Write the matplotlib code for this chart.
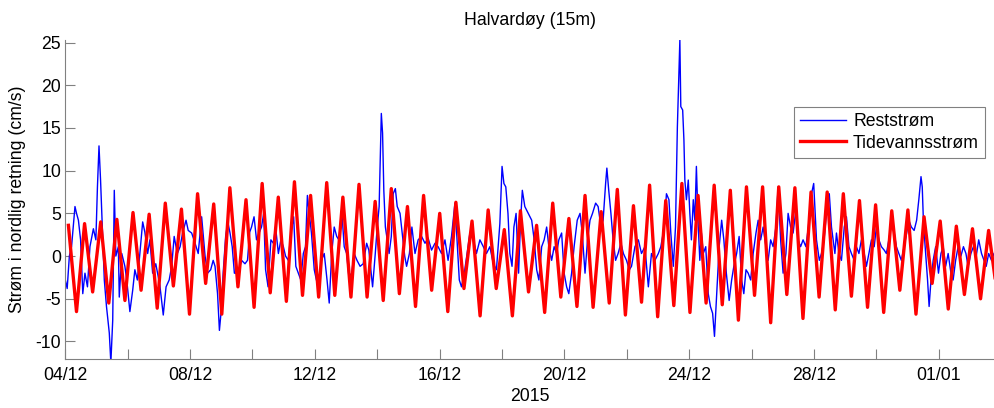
## Import Libraries

import numpy as np
import pandas as pd
import matplotlib.pyplot as plt

plt.rcParams["font.family"] = ["Liberation Sans", "DejaVu Sans"]
plt.rcParams["font.size"] = 12.7
plt.rcParams["axes.unicode_minus"] = False

## Data (days after 04/12/2015, cm/s)

start = pd.Timestamp("2015-12-04")

# tidal current: successive high/low extremes, one every half M2 period
tide_t0 = 0.10
tide_half = 12.42 / 24 / 2
tide_v = [3.6, -6.5, 3.8, -4.2, 4.0, -5.5, 4.3, -5.2, 5.1, -4.0,
          4.9, -6.1, 6.2, -3.5, 5.5, -6.8, 7.3, -3.2, 6.1, -6.8,
          8.0, -3.6, 6.6, -6.0, 8.5, -4.3, 6.9, -5.3, 8.7, -4.6,
          7.1, -4.8, 8.6, -4.6, 6.9, -4.8, 8.4, -4.8, 6.4, -5.2,
          7.9, -4.4, 5.8, -5.9, 7.1, -4.0, 5.0, -6.5, 6.3, -3.8,
          4.1, -7.0, 5.4, -3.8, 3.1, -7.0, 5.3, -4.2, 3.6, -6.6,
          6.2, -4.8, 4.4, -5.9, 7.1, -6.0, 5.2, -5.5, 7.8, -6.9,
          5.9, -5.4, 8.3, -7.1, 6.5, -5.8, 8.5, -6.6, 7.1, -5.5,
          8.3, -5.7, 7.7, -7.5, 8.1, -4.6, 8.1, -7.8, 8.1, -4.5,
          8.0, -7.3, 7.5, -4.8, 7.5, -6.3, 7.3, -4.7, 6.5, -6.0,
          6.0, -6.6, 5.3, -4.0, 5.4, -6.8, 4.6, -3.2, 4.1, -6.2,
          3.5, -4.5, 3.2, -5.0, 3.0, -4.0]

# residual current
rest_t = [0.00, 0.06, 0.13, 0.20, 0.31, 0.36, 0.42, 0.49, 0.56, 0.63, 0.71, 0.79, 0.90, 0.98,
          1.03, 1.08, 1.13, 1.20, 1.25, 1.32, 1.41, 1.46, 1.52, 1.57, 1.62, 1.70, 1.73, 1.81, 1.91, 1.97,
          2.07, 2.16, 2.23, 2.31, 2.39, 2.48, 2.55, 2.64, 2.71, 2.80, 2.90,
          3.03, 3.14, 3.23, 3.33, 3.41, 3.49, 3.59, 3.68, 3.76, 3.87, 3.94,
          4.05, 4.16, 4.26, 4.37, 4.48, 4.56, 4.66, 4.74, 4.80, 4.88, 4.94, 4.99,
          5.06, 5.14, 5.21, 5.28, 5.35, 5.42, 5.49, 5.57, 5.65, 5.76, 5.84, 5.91, 5.97,
          6.05, 6.13, 6.21, 6.29, 6.36, 6.42, 6.50, 6.59, 6.67, 6.74, 6.83, 6.91, 6.99,
          7.06, 7.15, 7.23, 7.32, 7.39, 7.47, 7.55, 7.63, 7.70, 7.76, 7.82, 7.89, 7.98,
          8.05, 8.13, 8.21, 8.30, 8.39, 8.46, 8.54, 8.62, 8.70, 8.77, 8.86, 8.94,
          9.02, 9.09, 9.18, 9.26, 9.35, 9.45, 9.55, 9.66, 9.73, 9.85, 9.93,
          10.00, 10.06, 10.13, 10.17, 10.21, 10.26, 10.32, 10.38, 10.45, 10.51, 10.58, 10.64, 10.73, 10.79, 10.88, 10.94,
          11.03, 11.11, 11.21, 11.31, 11.42, 11.53, 11.63, 11.74, 11.85, 11.95,
          12.06, 12.17, 12.27, 12.38, 12.49, 12.57, 12.63, 12.70, 12.79, 12.88, 12.97,
          13.08, 13.18, 13.29, 13.40, 13.50, 13.61, 13.72, 13.82, 13.93,
          14.00, 14.06, 14.12, 14.19, 14.25, 14.32, 14.38, 14.45, 14.53, 14.59, 14.65, 14.73, 14.84, 14.95,
          15.03, 15.11, 15.18, 15.27, 15.35, 15.43, 15.50, 15.59, 15.67, 15.75, 15.82, 15.91, 15.99,
          16.07, 16.14, 16.23, 16.31, 16.41, 16.50, 16.57, 16.66, 16.74, 16.82, 16.90,
          17.00, 17.08, 17.17, 17.24, 17.32, 17.36, 17.42, 17.49, 17.56, 17.64, 17.72, 17.81, 17.89, 17.99,
          18.08, 18.15, 18.26, 18.37, 18.47, 18.58, 18.69, 18.79, 18.90,
          19.01, 19.09, 19.20, 19.27, 19.35, 19.41, 19.49, 19.56, 19.62, 19.67, 19.70, 19.73, 19.79, 19.83, 19.86, 19.91, 19.97,
          20.02, 20.07, 20.13, 20.18, 20.23, 20.29, 20.34, 20.39, 20.45, 20.53, 20.61, 20.68, 20.75, 20.81, 20.88, 20.96,
          21.04, 21.11, 21.19, 21.28, 21.36, 21.43, 21.52, 21.60, 21.68, 21.75, 21.82, 21.89, 21.97,
          22.05, 22.14, 22.21, 22.29, 22.37, 22.46, 22.53, 22.61, 22.69, 22.78, 22.85, 22.93,
          23.01, 23.10, 23.17, 23.25, 23.33, 23.42, 23.49, 23.57, 23.65, 23.74, 23.82, 23.92, 23.99,
          24.08, 24.17, 24.24, 24.32, 24.40, 24.49, 24.56, 24.64, 24.67, 24.72, 24.80, 24.88, 24.97,
          25.04, 25.12, 25.20, 25.29, 25.36, 25.44, 25.52, 25.61, 25.68, 25.76, 25.84, 25.93,
          26.00, 26.08, 26.16, 26.25, 26.32, 26.40, 26.48, 26.57, 26.64, 26.72, 26.80, 26.89, 26.97,
          27.04, 27.12, 27.21, 27.29, 27.36, 27.43, 27.47, 27.51, 27.58, 27.64, 27.69, 27.75, 27.82, 27.90, 27.99,
          28.07, 28.14, 28.22, 28.30, 28.39, 28.46, 28.54, 28.62, 28.71, 28.79, 28.87, 28.94,
          29.03, 29.11, 29.20, 29.28, 29.37, 29.45, 29.52, 29.60, 29.69, 29.77]
rest_v = [-2.8, -3.8, 0.0, 1.1, 5.8, 5.0, 4.2, 1.9, -4.4, -2.0, -3.6, 1.1, 3.2, 1.9,
          8.1, 12.9, 8.9, 1.9, -2.8, -5.9, -9.0, -12.5, -7.5, 7.7, 0.0, 1.1, -4.8, 0.3, -1.2, -2.8,
          -6.5, -4.0, -1.6, -2.8, 0.3, 4.0, 2.8, 0.3, 1.9, -2.0, -0.9,
          -3.4, -6.9, -3.6, -2.8, -1.2, 2.3, 0.3, 1.1, 2.7, 4.2, 3.0,
          2.7, 1.5, 0.3, 4.6, 0.0, -2.0, -1.6, -0.5, -1.2, -4.4, -8.7, -6.7,
          -2.0, 2.3, 4.0, 2.7, 1.1, -2.0, -2.0, -1.6, -0.5, -0.9, -0.5, 2.8, 3.4,
          4.6, 1.9, 2.7, 3.4, 5.0, -1.6, -3.6, 1.9, 1.5, 3.4, 0.3, 1.9, 1.1,
          0.0, -0.5, 2.7, 4.6, -1.2, -2.0, -2.8, 0.3, 1.1, 7.1, 5.0, 2.7, -1.6,
          -2.8, -3.6, -0.5, 0.3, -2.8, -5.5, 0.3, 3.4, 2.3, 1.9, 5.4, 1.1,
          0.3, -2.4, -2.0, 0.3, -0.5, -1.2, -0.9, 1.5, 0.7, -3.6, 0.0,
          3.4, 5.8, 16.7, 14.4, 7.7, 3.4, 1.9, 0.3, 2.3, 7.3, 7.9, 5.8, 5.0, 3.0, 0.0, -1.2,
          0.3, 3.4, 0.3, 1.9, 2.3, 1.5, 2.1, 0.7, 1.5, 1.1,
          0.3, 1.9, -0.5, 2.3, 6.2, 1.1, -2.8, -3.6, -2.0, 0.3, 2.7,
          1.9, 0.3, 1.9, 1.1, 0.3, 1.1, -0.9, -1.6, 3.8,
          10.5, 8.5, 8.1, 5.0, 0.3, -1.2, 3.4, 5.0, -2.0, 3.8, 7.7, 5.8, 5.0, 4.2,
          1.9, -1.6, -2.8, 1.1, 1.9, 3.4, 1.1, -0.5, 1.1, 0.3, 1.9, 2.7, -2.0,
          -3.6, -4.4, -2.0, 1.1, 4.2, 5.0, 2.7, -2.0, 1.9, 4.2, 5.0,
          6.2, 5.8, 3.4, 4.2, 8.5, 10.3, 7.7, 5.0, 1.9, -0.5, 0.3, 1.5, 0.3, -0.5,
          -1.6, -1.2, 1.1, 1.9, 0.3, 1.1, -3.6, 0.3, -0.5,
          0.3, 1.1, 3.4, 7.3, 6.6, 2.7, -1.2, 3.4, 15.1, 21.4, 25.3, 17.5, 17.1, 13.6, 8.9, 6.6, 8.9,
          5.0, 1.9, 6.6, 4.2, 10.5, 3.4, -0.5, 2.7, 0.3, 1.1, -4.4, -5.9, -6.7, -9.4, -4.4, 1.1,
          4.2, 1.9, -2.0, -5.2, -2.8, -1.2, 0.3, 2.3, -2.8, -4.4, -1.6, -2.0, -2.8,
          0.3, 2.7, 4.2, 1.9, 3.4, 1.1, -0.5, 1.9, 1.1, 3.4, 8.1, 1.9,
          -2.0, 0.3, 5.0, 3.4, 2.7, 5.4, 1.9, 1.1, 1.9, 1.1, 3.4, 7.3, 8.5,
          1.9, -0.5, 0.3, 1.9, 5.0, 7.3, 3.4, 1.1, 0.3, 2.7, 0.3, -0.5, 3.4,
          4.6, 1.1, 0.3, -0.5, 1.1, 0.3, 1.9, 0.3, -1.2, 0.3, 1.9, 1.1,
          3.4, 1.9, 1.1, 0.7, 0.3, 1.9, 3.8, 2.7, 1.1, 0.3, -0.5, 1.1, 2.7,
          4.2, 3.4, 3.0, 4.2, 6.6, 9.3, 8.1, 3.8, 0.3, -2.8, -5.9, -2.8, -0.5, 1.1, -2.0,
          0.3, 1.1, -1.2, 0.3, -2.0, -2.8, -0.5, 1.1, 0.0, 1.1, 0.3, -1.2,
          0.3, 1.1, 0.0, 1.9, 0.3, -0.5, -1.2, 0.3, -0.5, 0.3]

tick_days = list(range(0, 30, 2))
tick_labels = ["04/12", "", "08/12", "", "12/12", "", "16/12", "", "20/12", "",
               "24/12", "", "28/12", "", "01/01"]

## Dates

tide_t = tide_t0 + tide_half * np.arange(len(tide_v))
tide_x = start + pd.to_timedelta(tide_t, unit="D")
rest_x = start + pd.to_timedelta(rest_t, unit="D")
tick_x = start + pd.to_timedelta(tick_days, unit="D")

## Plot

fig = plt.figure(figsize=(9.94, 4.08), dpi=100)
ax = fig.add_axes([0.0657, 0.1201, 0.9343, 0.7819])

ax.plot(rest_x, rest_v, color="#0000ff", lw=1.0, label="Reststrøm")
ax.plot(tide_x, tide_v, color="#ff0000", lw=2.4, solid_joinstyle="round", label="Tidevannsstrøm")

ax.set_xlim(start, start + pd.Timedelta(days=29.77))
ax.set_ylim(-12.05, 25.3)
ax.set_yticks([-10, -5, 0, 5, 10, 15, 20, 25])
ax.set_xticks(tick_x)
ax.set_xticklabels(tick_labels)

for s in ["top", "right"]:
    ax.spines[s].set_visible(False)
for s in ["left", "bottom"]:
    ax.spines[s].set_color("#808080")
ax.tick_params(direction="in", length=7, width=0.8, color="#808080", labelcolor="black")
ax.tick_params(axis="x", pad=6)
ax.tick_params(axis="y", pad=3)

ax.set_title("Halvardøy (15m)", fontsize=12.7, pad=11)
ax.set_xlabel("2015")
ax.xaxis.set_label_coords(0.5, -0.09)
ax.set_ylabel("Strøm i nordlig retning (cm/s)")
ax.yaxis.set_label_coords(-0.0423, 0.5)

leg = ax.legend(loc="upper right", bbox_to_anchor=(0.991, 0.7377), bbox_transform=fig.transFigure,
                fancybox=False, framealpha=1, edgecolor="#808080", handlelength=2.6,
                handletextpad=0.4, labelspacing=0.25, borderpad=0.35, borderaxespad=0)
leg.get_frame().set_linewidth(0.8)

fig.savefig("out.png", dpi=100)
